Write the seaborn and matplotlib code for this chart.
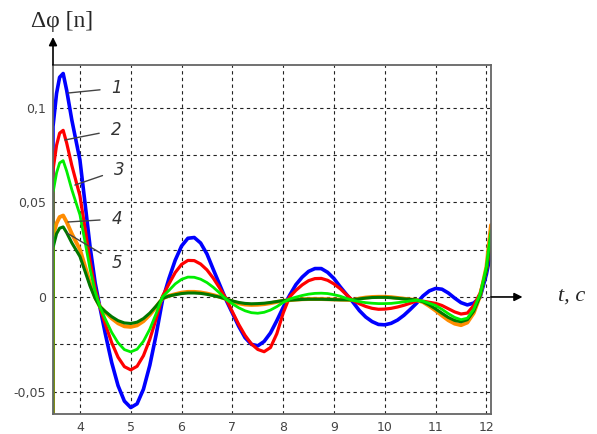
import pandas as pd
import seaborn as sns
import matplotlib.pyplot as plt

# time samples, s
t = [3.465, 3.47, 3.54, 3.6, 3.67, 3.74, 3.84, 4.0, 4.1, 4.2, 4.3, 4.39,
     4.5, 4.625, 4.75, 4.875, 5.0, 5.125, 5.25, 5.375, 5.5, 5.625,
     5.75, 5.875, 6.0, 6.125, 6.25, 6.375, 6.5, 6.625, 6.75, 6.875,
     7.0, 7.125, 7.25, 7.375, 7.5, 7.625, 7.75, 7.875, 8.0, 8.125,
     8.25, 8.375, 8.5, 8.625, 8.75, 8.875, 9.0, 9.125, 9.25, 9.375,
     9.5, 9.625, 9.75, 9.875, 10.0, 10.125, 10.25, 10.375, 10.5, 10.625,
     10.75, 10.875, 11.0, 11.125, 11.25, 11.375, 11.5, 11.625, 11.75, 11.875, 12.0, 12.09]

curve1 = [-0.07, 0.090, 0.1075, 0.116, 0.118, 0.109, 0.0935, 0.0723, 0.0496, 0.0264, 0.0074, -0.005,
          -0.0195, -0.0346, -0.0468, -0.055, -0.0584, -0.0564, -0.0487, -0.0361, -0.0199, -0.0017,
          0.0096, 0.0194, 0.0269, 0.031, 0.0314, 0.0285, 0.0227, 0.0145, 0.0065, -0.0015,
          -0.0085, -0.0155, -0.0215, -0.025, -0.0258, -0.0235, -0.019, -0.0125, -0.0055, 0.0008,
          0.0065, 0.0105, 0.0135, 0.015, 0.015, 0.013, 0.0097, 0.0053, 0.0012, -0.0028,
          -0.0072, -0.0106, -0.013, -0.0145, -0.0147, -0.0139, -0.0122, -0.0097, -0.0066, -0.0033,
          0.0005, 0.0032, 0.0045, 0.0041, 0.0021, -0.0006, -0.003, -0.0042, -0.0032, -0.0002, 0.012, 0.024]
curve2 = [-0.07, 0.067, 0.0801, 0.0865, 0.088, 0.0812, 0.0695, 0.0534, 0.0363, 0.0187, 0.0044, -0.005,
          -0.0144, -0.0241, -0.0318, -0.0368, -0.0385, -0.0366, -0.031, -0.0224, -0.0115, 0.0004,
          0.0068, 0.0129, 0.0172, 0.0193, 0.0192, 0.0174, 0.0143, 0.0099, 0.0047, -0.0009,
          -0.0078, -0.0145, -0.0203, -0.0248, -0.0277, -0.0289, -0.0267, -0.0194, -0.0085, 0.0,
          0.0035, 0.0064, 0.0086, 0.0097, 0.0098, 0.0088, 0.0069, 0.0043, 0.0011, -0.0019,
          -0.0036, -0.005, -0.006, -0.0065, -0.0064, -0.006, -0.0053, -0.0044, -0.0033, -0.0021,
          -0.0022, -0.0028, -0.0034, -0.0045, -0.0062, -0.0079, -0.009, -0.0085, -0.0045, 0.002, 0.014, 0.03]
curve3 = [-0.07, 0.055, 0.0655, 0.0708, 0.072, 0.0664, 0.0567, 0.0434, 0.0292, 0.0146, 0.0028, -0.005,
          -0.0117, -0.0187, -0.0242, -0.0278, -0.029, -0.0276, -0.0234, -0.017, -0.0088, 0.0001,
          0.0034, 0.0069, 0.0093, 0.0105, 0.0104, 0.0094, 0.0076, 0.0051, 0.0021, -0.0012,
          -0.0036, -0.0057, -0.0073, -0.0083, -0.0086, -0.0081, -0.0069, -0.0051, -0.0029, -0.0011,
          -0.0001, 0.0008, 0.0015, 0.0019, 0.002, 0.0018, 0.0012, 0.0004, -0.0008, -0.0018,
          -0.0025, -0.003, -0.0033, -0.0035, -0.0035, -0.0034, -0.003, -0.0026, -0.0021, -0.0017,
          -0.0022, -0.0033, -0.0045, -0.0065, -0.0088, -0.0108, -0.012, -0.0112, -0.0065, 0.0015, 0.016, 0.035]
curve4 = [-0.07, 0.032, 0.0389, 0.0422, 0.043, 0.0395, 0.0334, 0.0251, 0.0163, 0.0072, -0.0002, -0.005,
          -0.0081, -0.0113, -0.0139, -0.0155, -0.0158, -0.015, -0.0128, -0.0094, -0.0052, -0.0008,
          0.0006, 0.0015, 0.0023, 0.0027, 0.0027, 0.0024, 0.0018, 0.001, 0.0001, -0.0011,
          -0.0024, -0.0034, -0.004, -0.0042, -0.0041, -0.0038, -0.0033, -0.0026, -0.002, -0.0017,
          -0.0014, -0.0012, -0.0011, -0.0011, -0.0011, -0.0012, -0.0013, -0.0014, -0.0015, -0.0016,
          -0.0008, -0.0003, 0.0, 0.0001, 0.0001, -0.0001, -0.0005, -0.0009, -0.0013, -0.0016,
          -0.0027, -0.0048, -0.0072, -0.0098, -0.0123, -0.0141, -0.0149, -0.0135, -0.0085, 0.0005, 0.016, 0.038]
curve5 = [-0.07, 0.026, 0.0334, 0.0363, 0.037, 0.0339, 0.0286, 0.0214, 0.0136, 0.0057, -0.0008, -0.005,
          -0.0077, -0.0104, -0.0125, -0.0137, -0.014, -0.0133, -0.0114, -0.0085, -0.0048, -0.0008,
          0.0005, 0.0012, 0.0018, 0.0021, 0.0021, 0.0019, 0.0014, 0.0007, -0.0001, -0.0011,
          -0.0021, -0.0029, -0.0034, -0.0036, -0.0035, -0.0033, -0.0029, -0.0024, -0.0019, -0.0017,
          -0.0015, -0.0013, -0.0012, -0.0012, -0.0012, -0.0013, -0.0014, -0.0015, -0.0015, -0.0016,
          -0.001, -0.0006, -0.0003, -0.0002, -0.0002, -0.0004, -0.0007, -0.001, -0.0013, -0.0016,
          -0.0025, -0.0042, -0.0063, -0.0086, -0.0108, -0.0124, -0.0131, -0.012, -0.0075, 0.0005, 0.014, 0.033]

# drawing order: green (3) ends on top
names = ["1", "2", "4", "5", "3"]
series = {"1": curve1, "2": curve2, "3": curve3, "4": curve4, "5": curve5}
colors = {"1": "#0000ff", "2": "#ff0000", "3": "#00ee00", "4": "#ff8c00", "5": "#007800"}
widths = {"1": 2.6, "2": 2.3, "3": 2.0, "4": 2.8, "5": 2.2}

df = pd.concat([pd.DataFrame({"t": t, "v": series[n], "curve": n}) for n in names])

sns.set_style("white")
fig = plt.figure(figsize=(5.97, 4.34), dpi=100)
ax = fig.add_axes([53 / 597, 20 / 434, 438 / 597, 349 / 434])

for n in names:
    sns.lineplot(data=df[df["curve"] == n], x="t", y="v", color=colors[n],
                 linewidth=widths[n], ax=ax, legend=False, sort=False,
                 solid_joinstyle="round")

ax.set_xlim(3.47, 12.09)
ax.set_ylim(-0.0618, 0.1225)
ax.set_xticks(range(4, 13))
ax.set_yticks([-0.05, -0.025, 0, 0.025, 0.05, 0.075, 0.1])
ax.set_yticklabels(["-0,05", "", "0", "", "0,05", "", "0,1"])
ax.tick_params(length=0, labelsize=9, labelcolor="#444444", pad=5)
ax.set_xlabel("")
ax.set_ylabel("")
ax.grid(True, color="#222222", linestyle=(0, (3, 3)), linewidth=0.8)
for s in ax.spines.values():
    s.set_color("#666666")
    s.set_linewidth(1.3)

# axis arrows
ax.annotate("", xy=(0, 1.08), xytext=(0, 1.0), xycoords="axes fraction",
            arrowprops=dict(arrowstyle="-|>", color="black", lw=1.2,
                            mutation_scale=12, shrinkA=0, shrinkB=0))
ax.annotate("", xy=(1.072, 0), xytext=(1.0, 0),
            xycoords=("axes fraction", "data"), textcoords=("axes fraction", "data"),
            arrowprops=dict(arrowstyle="-|>", color="black", lw=1.2,
                            mutation_scale=12, shrinkA=0, shrinkB=0))

fig.text(62 / 597, 1 - 22 / 434, "Δφ [n]", family="Liberation Serif", fontsize=17,
         ha="center", va="center")
fig.text(572 / 597, 1 - 296 / 434, "t, c", family="Liberation Serif", style="italic",
         fontsize=16, ha="center", va="center")

# curve numbers with leader lines
labels = [("1", (3.764, 0.1077), (4.728, 0.1103)),
          ("2", (3.705, 0.0829), (4.709, 0.0882)),
          ("3", (3.90, 0.0591), (4.768, 0.0671)),
          ("4", (3.764, 0.0396), (4.728, 0.0412)),
          ("5", (3.744, 0.0338), (4.728, 0.0180))]
for txt, xy, xytext in labels:
    ax.annotate(txt, xy=xy, xytext=xytext, fontsize=12, style="italic",
                color="#333333", ha="center", va="center",
                arrowprops=dict(arrowstyle="-", color="#444444", lw=1.0,
                                shrinkA=6, shrinkB=0))

fig.savefig("out.png", dpi=100)
